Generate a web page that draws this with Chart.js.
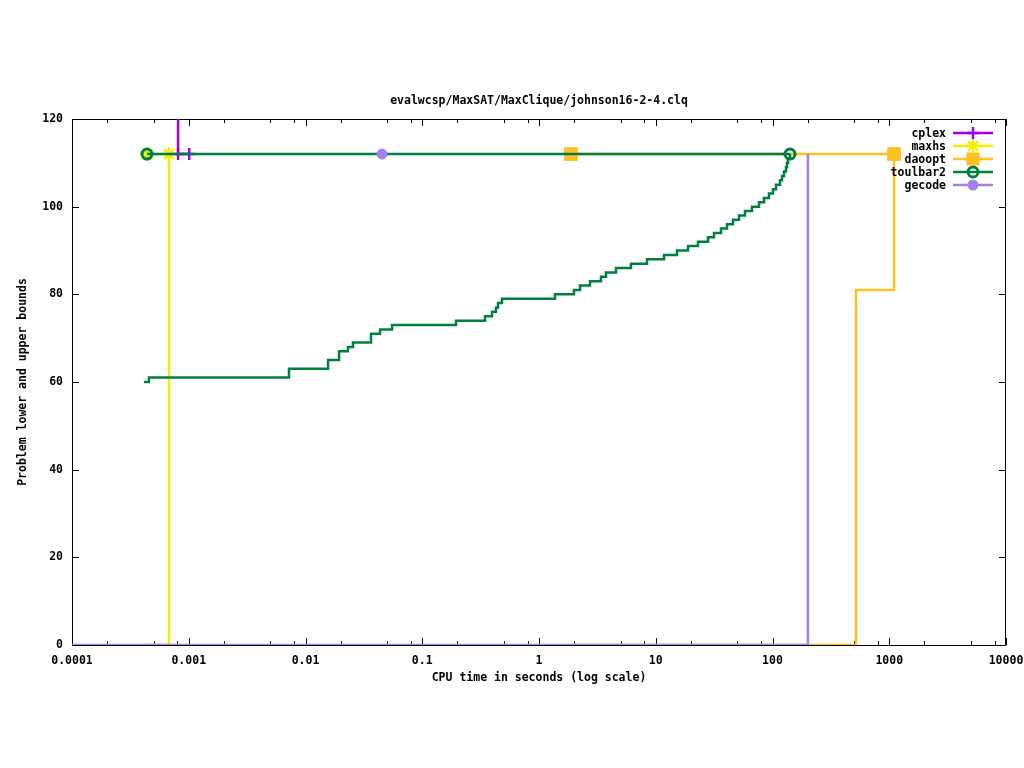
<!DOCTYPE html>
<html lang="en">
<head>
    <meta charset="UTF-8">
    <title>evalwcsp/MaxSAT/MaxClique/johnson16-2-4.clq</title>
    <script src="https://cdn.jsdelivr.net/npm/chart.js"></script>
    <style>
        html, body { margin: 0; padding: 0; background: #fff; overflow: hidden; }
    </style>
</head>
<body>
    <canvas id="boundsChart" width="1024" height="768"></canvas>

    <script>
        // x axis: decade ticks and their labels
        const xTickValues = [0.0001, 0.001, 0.01, 0.1, 1, 10, 100, 1000, 10000];
        const xTickLabels = ['0.0001', '0.001', '0.01', '0.1', '1', '10', '100', '1000', '10000'];
        const xMinorSteps = [2, 5, 8];
        const yTickValues = [0, 20, 40, 60, 80, 100, 120];

        // solvers in legend order
        const solverNames = ['cplex', 'maxhs', 'daoopt', 'toulbar2', 'gecode'];
        const solverColors = ['#a000e8', '#f0f000', '#ffc020', '#008040', '#a080f0'];
        const solverMarkers = ['cross', 'star', 'rect', 'ring', 'dot'];

        // upper bounds (time in s, bound)
        const cplexUbTime = [0.00081, 0.00081, 0.00101];
        const cplexUb = [135, 112, 112];
        const maxhsUbTime = [0.000439, 0.000677];
        const maxhsUb = [112, 112];
        const daooptUbTime = [1.88, 1099];
        const daooptUb = [112, 112];
        const toulbar2UbTime = [0.000439, 141.3];
        const toulbar2Ub = [112, 112];
        const gecodeUbTime = [0.0452];
        const gecodeUb = [112];

        // lower bounds (stepped)
        const maxhsLbTime = [0.000439, 0.000677];
        const maxhsLb = [0, 112];
        const daooptLbTime = [1.88, 519, 1099];
        const daooptLb = [0, 81, 112];
        const gecodeLbTime = [0.0001, 201];
        const gecodeLb = [0, 112];
        const toulbar2LbTime = [
            0.000414, 0.000456, 0.00722, 0.0156, 0.0194, 0.0231, 0.0255, 0.0364, 0.0435, 0.0551,
            0.1946, 0.345, 0.396, 0.428, 0.4455, 0.482, 1.371, 1.994, 2.245, 2.734,
            3.396, 3.749, 4.565, 6.137, 8.414, 11.77, 15.21, 18.89, 23.0, 28.03,
            31.54, 36.22, 40.76, 45.88, 51.65, 58.14, 66.74, 76.63, 84.6, 93.3,
            101, 107.2, 115.9, 120.6, 125.5, 130.5, 133.1, 135.8, 141.3
        ];
        const toulbar2Lb = [
            60, 61, 63, 65, 67, 68, 69, 71, 72, 73,
            74, 75, 76, 77, 78, 79, 80, 81, 82, 83,
            84, 85, 86, 87, 88, 89, 90, 91, 92, 93,
            94, 95, 96, 97, 98, 99, 100, 101, 102, 103,
            104, 105, 106, 107, 108, 109, 110, 111, 112
        ];

        const FONT = "'DejaVu Sans Mono', 'Liberation Mono', monospace";
        Chart.defaults.font.family = FONT;
        Chart.defaults.font.size = 11.5;
        Chart.defaults.font.weight = 'bold';
        Chart.defaults.color = '#000';

        function toPoints(times, values) {
            return times.map((t, i) => ({ x: t, y: values[i] }));
        }

        function markerStyle(m) {
            if (m === 'ring' || m === 'dot') return 'circle';
            return m;
        }
        function markerRadius(m) {
            if (m === 'rect') return 9;
            if (m === 'cross') return 6;
            if (m === 'star') return 7;
            return 5;
        }
        function markerWidth(m) {
            if (m === 'rect' || m === 'dot') return 1;
            if (m === 'ring') return 3;
            return 2.5;
        }

        function ubSet(idx, times, values) {
            const m = solverMarkers[idx];
            const fillCol = m === 'ring' ? 'rgba(0,0,0,0)' : solverColors[idx];
            return {
                label: solverNames[idx] + ' ub',
                data: toPoints(times, values),
                borderColor: solverColors[idx],
                backgroundColor: fillCol,
                borderWidth: 2.5,
                pointStyle: markerStyle(m),
                pointRadius: markerRadius(m),
                pointBorderWidth: markerWidth(m),
                pointBorderColor: solverColors[idx],
                pointBackgroundColor: fillCol,
                fill: false
            };
        }

        function lbSet(idx, times, values) {
            return {
                label: solverNames[idx] + ' lb',
                data: toPoints(times, values),
                borderColor: solverColors[idx],
                borderWidth: 2.5,
                pointRadius: 0,
                fill: false,
                stepped: true
            };
        }

        function drawMarker(ctx, m, x, y, color) {
            ctx.strokeStyle = color;
            ctx.fillStyle = color;
            ctx.lineWidth = 2.5;
            ctx.beginPath();
            if (m === 'cross' || m === 'star') {
                const r = markerRadius(m);
                ctx.moveTo(x - r, y); ctx.lineTo(x + r, y);
                ctx.moveTo(x, y - r); ctx.lineTo(x, y + r);
                if (m === 'star') {
                    const d = r * 0.7;
                    ctx.moveTo(x - d, y - d); ctx.lineTo(x + d, y + d);
                    ctx.moveTo(x - d, y + d); ctx.lineTo(x + d, y - d);
                }
                ctx.stroke();
            } else if (m === 'rect') {
                ctx.fillRect(x - 6.5, y - 6.5, 13, 13);
            } else if (m === 'ring') {
                ctx.lineWidth = 3;
                ctx.arc(x, y, 5, 0, Math.PI * 2);
                ctx.stroke();
            } else {
                ctx.arc(x, y, 5.5, 0, Math.PI * 2);
                ctx.fill();
            }
        }

        // frame, inward ticks and legend, drawn around the datasets
        const framePlugin = {
            id: 'frame',
            beforeDatasetsDraw(chart) {
                const { ctx, chartArea: a, scales } = chart;
                ctx.save();
                ctx.strokeStyle = '#000';
                ctx.lineWidth = 1;
                ctx.strokeRect(a.left + 0.5, a.top + 0.5, a.right - a.left - 1, a.bottom - a.top);
                ctx.beginPath();
                xTickValues.forEach((v, i) => {
                    const px = Math.round(scales.x.getPixelForValue(v)) + 0.5;
                    ctx.moveTo(px, a.bottom); ctx.lineTo(px, a.bottom - 7);
                    ctx.moveTo(px, a.top); ctx.lineTo(px, a.top + 7);
                    if (i < xTickValues.length - 1) {
                        xMinorSteps.forEach(m => {
                            const mx = Math.round(scales.x.getPixelForValue(v * m)) + 0.5;
                            ctx.moveTo(mx, a.bottom); ctx.lineTo(mx, a.bottom - 4);
                            ctx.moveTo(mx, a.top); ctx.lineTo(mx, a.top + 4);
                        });
                    }
                });
                yTickValues.forEach(v => {
                    const py = Math.round(scales.y.getPixelForValue(v)) + 0.5;
                    ctx.moveTo(a.left, py); ctx.lineTo(a.left + 7, py);
                    ctx.moveTo(a.right, py); ctx.lineTo(a.right - 7, py);
                });
                ctx.stroke();
                ctx.restore();
            },
            afterDatasetsDraw(chart) {
                const { ctx } = chart;
                ctx.save();
                ctx.font = 'bold 11.5px ' + FONT;
                ctx.textAlign = 'right';
                ctx.textBaseline = 'middle';
                solverNames.forEach((name, i) => {
                    const y = 133 + i * 13;
                    ctx.strokeStyle = solverColors[i];
                    ctx.lineWidth = 2.5;
                    ctx.beginPath();
                    ctx.moveTo(953, y); ctx.lineTo(993, y);
                    ctx.stroke();
                    drawMarker(ctx, solverMarkers[i], 973, y, solverColors[i]);
                    ctx.fillStyle = '#000';
                    ctx.fillText(name, 946, y + 1);
                });
                ctx.restore();
            }
        };

        // gnuplot draws in legend order, later plots on top
        const datasets = [
            ubSet(0, cplexUbTime, cplexUb),
            lbSet(1, maxhsLbTime, maxhsLb),
            ubSet(1, maxhsUbTime, maxhsUb),
            lbSet(2, daooptLbTime, daooptLb),
            ubSet(2, daooptUbTime, daooptUb),
            lbSet(3, toulbar2LbTime, toulbar2Lb),
            ubSet(3, toulbar2UbTime, toulbar2Ub),
            lbSet(4, gecodeLbTime, gecodeLb),
            ubSet(4, gecodeUbTime, gecodeUb)
        ];
        datasets.forEach((d, i) => { d.order = datasets.length - i; });

        new Chart(document.getElementById('boundsChart').getContext('2d'), {
            type: 'line',
            data: { datasets: datasets },
            plugins: [framePlugin],
            options: {
                responsive: false,
                animation: false,
                devicePixelRatio: 1,
                layout: { padding: { left: 0, right: 18, top: 0, bottom: 0 } },
                plugins: {
                    legend: { display: false },
                    tooltip: { enabled: false },
                    title: { display: false }
                },
                scales: {
                    x: {
                        type: 'logarithmic',
                        min: 0.0001,
                        max: 10000,
                        grid: { display: false, drawTicks: false },
                        border: { display: false },
                        afterBuildTicks: s => { s.ticks = xTickValues.map(v => ({ value: v, major: true })); },
                        afterFit: s => { s.height = 123; s.paddingLeft = 0; s.paddingRight = 0; },
                        ticks: {
                            autoSkip: false,
                            maxRotation: 0,
                            padding: 9,
                            callback: (v, i) => xTickLabels[i]
                        },
                        title: {
                            display: true,
                            text: 'CPU time in seconds (log scale)',
                            padding: { top: 0, bottom: 83 }
                        }
                    },
                    // top axis only carries the plot title, centred on the plot area
                    xTop: {
                        type: 'logarithmic',
                        position: 'top',
                        min: 0.0001,
                        max: 10000,
                        grid: { display: false, drawTicks: false },
                        border: { display: false },
                        ticks: { display: false },
                        afterFit: s => { s.height = 119; s.paddingLeft = 0; s.paddingRight = 0; },
                        title: {
                            display: true,
                            text: 'evalwcsp/MaxSAT/MaxClique/johnson16-2-4.clq',
                            padding: { top: 94, bottom: 0 }
                        }
                    },
                    y: {
                        min: 0,
                        max: 120,
                        grid: { display: false, drawTicks: false },
                        border: { display: false },
                        afterBuildTicks: s => { s.ticks = yTickValues.map(v => ({ value: v })); },
                        afterFit: s => { s.width = 72; },
                        ticks: { padding: 9, autoSkip: false },
                        title: {
                            display: true,
                            text: 'Problem lower and upper bounds',
                            padding: { top: 16, bottom: 0 }
                        }
                    }
                }
            }
        });
    </script>
</body>
</html>
